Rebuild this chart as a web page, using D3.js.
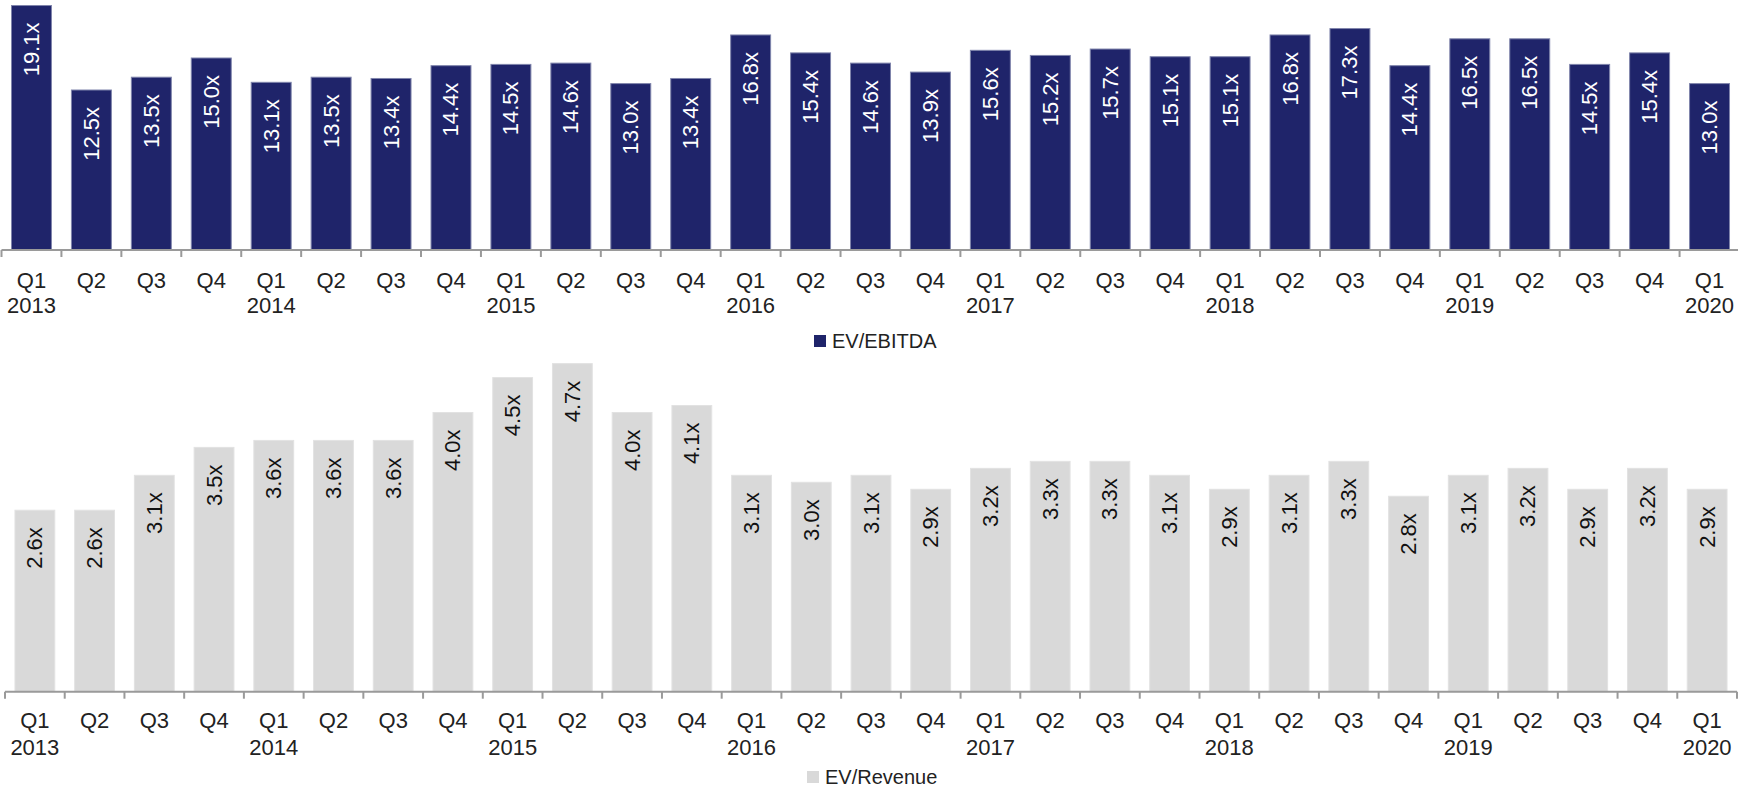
<!DOCTYPE html>
<html>
<head>
<meta charset="utf-8">
<script src="https://cdn.jsdelivr.net/npm/d3@7"></script>
<style>
  html, body { margin: 0; padding: 0; background: #fff; }
  svg { display: block; font-family: "Liberation Sans", Arial, sans-serif; }
</style>
</head>
<body>
<svg id="chart" width="1738" height="789"></svg>
<script>
const quarters = ["Q1","Q2","Q3","Q4","Q1","Q2","Q3","Q4","Q1","Q2","Q3","Q4","Q1","Q2","Q3","Q4","Q1","Q2","Q3","Q4","Q1","Q2","Q3","Q4","Q1","Q2","Q3","Q4","Q1"];
const years = ["2013","","","","2014","","","","2015","","","","2016","","","","2017","","","","2018","","","","2019","","","","2020"];
const evEbitda = [19.1,12.5,13.5,15.0,13.1,13.5,13.4,14.4,14.5,14.6,13.0,13.4,16.8,15.4,14.6,13.9,15.6,15.2,15.7,15.1,15.1,16.8,17.3,14.4,16.5,16.5,14.5,15.4,13.0];
const evRevenue = [2.6,2.6,3.1,3.5,3.6,3.6,3.6,4.0,4.5,4.7,4.0,4.1,3.1,3.0,3.1,2.9,3.2,3.3,3.3,3.1,2.9,3.1,3.3,2.8,3.1,3.2,2.9,3.2,2.9];
const seriesNames = ["EV/EBITDA", "EV/Revenue"];

const svg = d3.select("#chart");
const idx = d3.range(quarters.length);

function drawPanel(cfg) {
  const x = d3.scaleBand().domain(idx).range(cfg.xRange).paddingInner(1/3).paddingOuter(1/6);
  const y = d3.scaleLinear().domain(cfg.yDomain).range([cfg.base, cfg.base - cfg.height]);
  const g = svg.append("g");

  g.selectAll("rect.bar").data(cfg.values).join("rect")
    .attr("class", "bar")
    .attr("x", (d, i) => x(i))
    .attr("width", x.bandwidth())
    .attr("y", d => y(d))
    .attr("height", d => y(0) - y(d))
    .attr("fill", cfg.fill)
    .attr("stroke", cfg.stroke)
    .attr("stroke-width", 1);

  g.selectAll("text.val").data(cfg.values).join("text")
    .attr("class", "val")
    .attr("transform", (d, i) => `translate(${x(i) + x.bandwidth()/2},${y(d) + 17}) rotate(-90)`)
    .attr("text-anchor", "end")
    .attr("dominant-baseline", "central")
    .attr("font-size", 22)
    .attr("fill", cfg.labelColor)
    .text(d => d.toFixed(1) + "x");

  const step = x.step();
  const start = cfg.xRange[0];
  g.append("line")
    .attr("x1", start).attr("x2", cfg.xRange[1])
    .attr("y1", y(0)).attr("y2", y(0))
    .attr("stroke", "#9a9a9a").attr("stroke-width", 2);
  g.selectAll("line.tick").data(d3.range(quarters.length + 1)).join("line")
    .attr("class", "tick")
    .attr("x1", i => start + i * step).attr("x2", i => start + i * step)
    .attr("y1", y(0)).attr("y2", y(0) + 7)
    .attr("stroke", "#9a9a9a").attr("stroke-width", 2);

  const lab = g.selectAll("text.cat").data(idx).join("text")
    .attr("class", "cat")
    .attr("text-anchor", "middle")
    .attr("font-size", 22)
    .attr("fill", "#222");
  lab.append("tspan")
    .attr("x", i => x(i) + x.bandwidth()/2)
    .attr("y", y(0) + cfg.qOff)
    .text(i => quarters[i]);
  lab.append("tspan")
    .attr("x", i => x(i) + x.bandwidth()/2)
    .attr("y", y(0) + cfg.yrOff)
    .text(i => years[i]);

  const lg = g.append("g").attr("transform", `translate(${cfg.legend[0]},${cfg.legend[1]})`);
  lg.append("rect").attr("x", 0).attr("y", -6).attr("width", 12).attr("height", 12).attr("fill", cfg.fill);
  lg.append("text").attr("x", 18).attr("y", 0).attr("dominant-baseline", "central")
    .attr("font-size", 20).attr("fill", "#222").text(cfg.name);
}

drawPanel({
  values: evEbitda, name: seriesNames[0],
  xRange: [1.5, 1739.5], yDomain: [0, 19.5], base: 250, height: 249.6,
  fill: "#1f246a", stroke: "#7f84ab", labelColor: "#ffffff",
  qOff: 38, yrOff: 63, legend: [814, 341]
});

drawPanel({
  values: evRevenue, name: seriesNames[1],
  xRange: [5, 1737], yDomain: [0, 5], base: 691.7, height: 349,
  fill: "#d9d9d9", stroke: "#e2e2e2", labelColor: "#111111",
  qOff: 36, yrOff: 63, legend: [807, 777]
});
</script>
</body>
</html>
